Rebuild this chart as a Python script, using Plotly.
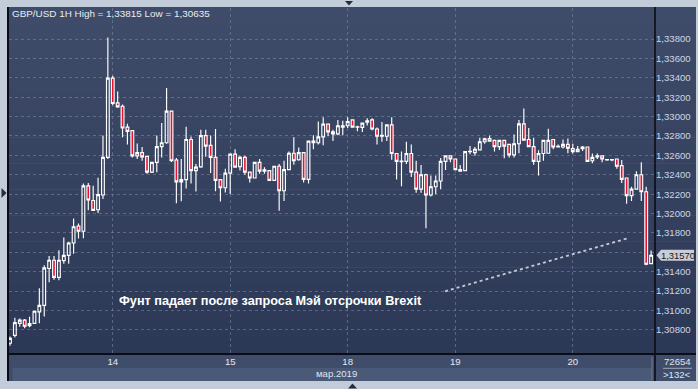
import plotly.graph_objects as go

# ---------------- data (GBP/USD, 1H candles) ----------------
opens = [
    1.30662, 1.30743, 1.30867, 1.30901, 1.30844, 1.30867, 1.30985, 1.31053, 1.31433, 1.31518,
    1.31342, 1.31514, 1.31568, 1.31696, 1.31871, 1.31817, 1.32286, 1.32134, 1.32039, 1.32191,
    1.32579, 1.33397, 1.33141, 1.33107, 1.32892, 1.32855, 1.32595, 1.32629, 1.32589, 1.32427,
    1.32528, 1.32690, 1.32730, 1.33057, 1.32552, 1.32326, 1.32349, 1.32764, 1.32443, 1.32481,
    1.32804, 1.32703, 1.32579, 1.32349, 1.32266, 1.32417, 1.32612, 1.32484, 1.32579, 1.32427,
    1.32367, 1.32528, 1.32437, 1.32443, 1.32342, 1.32488, 1.32235, 1.32453, 1.32622, 1.32555,
    1.32629, 1.32352, 1.32747, 1.32730, 1.32791, 1.32922, 1.32842, 1.32821, 1.32892, 1.32905,
    1.32966, 1.32895, 1.32888, 1.32943, 1.32966, 1.32872, 1.32797, 1.32797, 1.32915, 1.32619,
    1.32541, 1.32538, 1.32619, 1.32427, 1.32251, 1.32400, 1.32191, 1.32276, 1.32336, 1.32538,
    1.32595, 1.32562, 1.32453, 1.32443, 1.32637, 1.32629, 1.32656, 1.32740, 1.32774, 1.32754,
    1.32690, 1.32754, 1.32713, 1.32605, 1.32720, 1.32925, 1.32764, 1.32690, 1.32538, 1.32619,
    1.32622, 1.32764, 1.32693, 1.32686, 1.32713, 1.32670, 1.32639, 1.32686, 1.32686, 1.32544,
    1.32585, 1.32595, 1.32557, 1.32557, 1.32562, 1.32494, 1.32367, 1.32185, 1.32251, 1.32400,
    1.32225, 1.31483,
]
highs = [
    1.30732, 1.30924, 1.30917, 1.30911, 1.30935, 1.30995, 1.31228, 1.31467, 1.31561, 1.31561,
    1.31622, 1.31753, 1.31710, 1.31948, 1.31898, 1.32309, 1.32316, 1.32286, 1.32370, 1.32804,
    1.33815, 1.33421, 1.33259, 1.33125, 1.32925, 1.32860, 1.32723, 1.32686, 1.32592, 1.32531,
    1.32804, 1.32933, 1.33296, 1.33062, 1.32572, 1.32562, 1.32895, 1.32794, 1.32511, 1.32865,
    1.32865, 1.32804, 1.32872, 1.32354, 1.32461, 1.32619, 1.32663, 1.32595, 1.32595, 1.32430,
    1.32531, 1.32562, 1.32478, 1.32445, 1.32491, 1.32511, 1.32544, 1.32639, 1.32787, 1.32680,
    1.32632, 1.32754, 1.32807, 1.32949, 1.32993, 1.32925, 1.32865, 1.32966, 1.32956, 1.32993,
    1.32973, 1.32905, 1.32936, 1.32983, 1.32983, 1.32888, 1.32943, 1.32920, 1.32993, 1.32622,
    1.32639, 1.32740, 1.32713, 1.32544, 1.32501, 1.32410, 1.32393, 1.32393, 1.32572, 1.32602,
    1.32602, 1.32565, 1.32501, 1.32642, 1.32696, 1.32686, 1.32781, 1.32781, 1.32804, 1.32757,
    1.32757, 1.32757, 1.32716, 1.32814, 1.32966, 1.33084, 1.32882, 1.32781, 1.32653, 1.32757,
    1.32875, 1.32767, 1.32713, 1.32764, 1.32774, 1.32720, 1.32696, 1.32696, 1.32688, 1.32619,
    1.32619, 1.32597, 1.32562, 1.32562, 1.32562, 1.32552, 1.32370, 1.32276, 1.32437, 1.32528,
    1.32276, 1.31619,
]
lows = [
    1.30635, 1.30722, 1.30833, 1.30816, 1.30826, 1.30864, 1.30867, 1.30938, 1.31291, 1.31316,
    1.31312, 1.31483, 1.31483, 1.31584, 1.31743, 1.31746, 1.32033, 1.32026, 1.32006, 1.32150,
    1.32562, 1.33117, 1.33090, 1.32787, 1.32713, 1.32579, 1.32562, 1.32544, 1.32410, 1.32417,
    1.32427, 1.32579, 1.32720, 1.32531, 1.32107, 1.32127, 1.32258, 1.32309, 1.32228, 1.32471,
    1.32585, 1.32417, 1.32231, 1.32124, 1.32218, 1.32201, 1.32476, 1.32443, 1.32400, 1.32319,
    1.32365, 1.32410, 1.32410, 1.32339, 1.32339, 1.32029, 1.32130, 1.32450, 1.32504, 1.32544,
    1.32319, 1.32309, 1.32663, 1.32713, 1.32703, 1.32797, 1.32747, 1.32807, 1.32807, 1.32882,
    1.32890, 1.32848, 1.32842, 1.32908, 1.32858, 1.32713, 1.32740, 1.32747, 1.32555, 1.32352,
    1.32282, 1.32511, 1.32377, 1.32215, 1.32215, 1.31847, 1.32175, 1.32198, 1.32251, 1.32450,
    1.32528, 1.32450, 1.32435, 1.32440, 1.32612, 1.32595, 1.32653, 1.32720, 1.32744, 1.32639,
    1.32656, 1.32569, 1.32579, 1.32579, 1.32622, 1.32754, 1.32688, 1.32504, 1.32393, 1.32544,
    1.32619, 1.32663, 1.32680, 1.32670, 1.32622, 1.32619, 1.32637, 1.32645, 1.32536, 1.32518,
    1.32562, 1.32528, 1.32544, 1.32538, 1.32461, 1.32316, 1.32100, 1.32130, 1.32248, 1.32130,
    1.31467, 1.31477,
]
closes = [
    1.30712, 1.30874, 1.30901, 1.30837, 1.30864, 1.30992, 1.31053, 1.31440, 1.31518, 1.31342,
    1.31518, 1.31568, 1.31696, 1.31864, 1.31817, 1.32286, 1.32140, 1.32033, 1.32195, 1.32579,
    1.33397, 1.33135, 1.33100, 1.32882, 1.32848, 1.32595, 1.32629, 1.32585, 1.32427, 1.32528,
    1.32690, 1.32730, 1.33057, 1.32544, 1.32326, 1.32349, 1.32764, 1.32443, 1.32478, 1.32804,
    1.32696, 1.32579, 1.32342, 1.32266, 1.32417, 1.32612, 1.32478, 1.32579, 1.32427, 1.32367,
    1.32528, 1.32437, 1.32450, 1.32342, 1.32488, 1.32235, 1.32453, 1.32622, 1.32544, 1.32629,
    1.32352, 1.32747, 1.32730, 1.32791, 1.32922, 1.32842, 1.32821, 1.32905, 1.32905, 1.32949,
    1.32892, 1.32890, 1.32933, 1.32956, 1.32872, 1.32797, 1.32807, 1.32915, 1.32619, 1.32538,
    1.32536, 1.32619, 1.32427, 1.32251, 1.32400, 1.32191, 1.32276, 1.32336, 1.32538, 1.32595,
    1.32562, 1.32453, 1.32437, 1.32639, 1.32642, 1.32663, 1.32740, 1.32771, 1.32747, 1.32690,
    1.32754, 1.32696, 1.32605, 1.32720, 1.32925, 1.32757, 1.32690, 1.32538, 1.32619, 1.32754,
    1.32754, 1.32686, 1.32688, 1.32713, 1.32673, 1.32639, 1.32663, 1.32670, 1.32538, 1.32579,
    1.32595, 1.32562, 1.32552, 1.32552, 1.32488, 1.32352, 1.32185, 1.32251, 1.32400, 1.32225,
    1.31477, 1.31570,
]

day_tick_index = [21, 45, 69, 91, 115]
day_labels = ["14", "15", "18", "19", "20"]
price_ticks = [1.308, 1.310, 1.312, 1.314, 1.316, 1.318, 1.320, 1.322,
               1.324, 1.326, 1.328, 1.330, 1.332, 1.334, 1.336, 1.338]
# the 1,31600 label sits under the last-price marker in the original
price_tick_labels = ["1,30800", "1,31000", "1,31200", "1,31400", "", "1,31800",
                     "1,32000", "1,32200", "1,32400", "1,32600", "1,32800", "1,33000",
                     "1,33200", "1,33400", "1,33600", "1,33800"]

title_text = "GBP/USD 1H High = 1,33815 Low = 1,30635"
note_text = "Фунт падает после запроса Мэй отсрочки Brexit"
month_label = "мар.2019"
volume_label = "72654"
bars_label = "&gt;132&lt;"
last_price = 1.31570
last_price_label = "1,31570"
trend_x = [88.9, 126.1]
trend_y = [1.31198, 1.31743]
note_pos = (53.2, 1.31100)

# ---------------- geometry helpers (pixels -> paper) ----------------
W, H = 698, 389
PL, PR, PT, PB = 9, 655, 8, 354


def px(x):
    return (x - PL) / (PR - PL)


def py(y):
    return (PB - y) / (PB - PT)


FONT = "Liberation Sans, Arial, sans-serif"
GRID = "rgba(125,140,168,0.55)"

shapes = []

# gradient background (plot + right price panel)
top_c = (63, 76, 105)
bot_c = (44, 56, 85)
N = 40
y_top, y_bot = 7.0, 354.0
for k in range(N):
    t = k / (N - 1)
    c = tuple(round(top_c[i] + (bot_c[i] - top_c[i]) * t) for i in range(3))
    y0 = y_top + (y_bot - y_top) * k / N
    y1 = y_top + (y_bot - y_top) * (k + 1) / N + 0.6
    shapes.append(dict(type="rect", xref="paper", yref="paper", layer="below",
                       x0=px(8), x1=px(696), y0=py(y1), y1=py(y0),
                       fillcolor="rgb(%d,%d,%d)" % c, line=dict(width=0)))

# bottom time-axis band
shapes.append(dict(type="rect", xref="paper", yref="paper", layer="below",
                   x0=px(8), x1=px(696), y0=py(381), y1=py(354),
                   fillcolor="#3f4d6a", line=dict(width=0)))
shapes.append(dict(type="rect", xref="paper", yref="paper", layer="below",
                   x0=px(12.7), x1=px(652), y0=py(381), y1=py(368),
                   fillcolor="#4a5977", line=dict(width=0)))
shapes.append(dict(type="line", xref="paper", yref="paper", layer="above",
                   x0=px(652), x1=px(652), y0=py(357), y1=py(380),
                   line=dict(color="#6f7c94", width=1)))
shapes.append(dict(type="line", xref="paper", yref="paper", layer="above",
                   x0=px(663), x1=px(692), y0=py(368.3), y1=py(368.3),
                   line=dict(color="#9ca8bc", width=1)))

# black frame lines
shapes.append(dict(type="line", xref="paper", yref="paper", layer="above",
                   x0=px(8), x1=px(8), y0=py(7), y1=py(381),
                   line=dict(color="#0a0d14", width=2)))
shapes.append(dict(type="line", xref="paper", yref="paper", layer="above",
                   x0=px(655), x1=px(655), y0=py(7), y1=py(381),
                   line=dict(color="#0a0d14", width=1.6)))
shapes.append(dict(type="line", xref="paper", yref="paper", layer="above",
                   x0=px(8), x1=px(696), y0=py(354), y1=py(354),
                   line=dict(color="#0a0d14", width=2)))


# small scroll arrows in the outer frame
def tri(pts):
    d = "M " + " L ".join("%f,%f" % (px(a), py(b)) for a, b in pts) + " Z"
    return dict(type="path", xref="paper", yref="paper", layer="above", path=d,
                fillcolor="#252e3d", line=dict(width=0))


shapes.append(tri([(345, 1), (353, 1), (349, 5.5)]))
shapes.append(tri([(348, 388.5), (357, 388.5), (352.5, 383.5)]))
shapes.append(tri([(1.5, 188), (1.5, 198), (6.5, 193)]))

# user-drawn dotted trend line
shapes.append(dict(type="line", xref="x", yref="y", layer="above",
                   x0=trend_x[0], x1=trend_x[1], y0=trend_y[0], y1=trend_y[1],
                   line=dict(color="#c5cbd5", width=1.8, dash="dot")))

# last price marker box (arrow-shaped)
dy = 0.00056
path = "M %f,%f L %f,%f L %f,%f L %f,%f L %f,%f Z" % (
    px(656.5), last_price,
    px(661), last_price + dy,
    px(694), last_price + dy,
    px(694), last_price - dy,
    px(661), last_price - dy)
shapes.append(dict(type="path", xref="paper", yref="y", layer="above", path=path,
                   fillcolor="#c9cdd4", line=dict(width=0)))

annotations = [
    dict(text=title_text, xref="paper", yref="paper", x=px(10), y=py(13.5),
         xanchor="left", yanchor="middle", showarrow=False,
         font=dict(family=FONT, size=9.9, color="#e8ecf2")),
    dict(text="<b>" + note_text + "</b>", xref="x", yref="y",
         x=note_pos[0], y=note_pos[1], xanchor="center", yanchor="middle",
         showarrow=False, font=dict(family=FONT, size=12.7, color="#ffffff")),
    dict(text=month_label, xref="paper", yref="paper", x=px(336), y=py(373.8),
         xanchor="center", yanchor="middle", showarrow=False,
         font=dict(family=FONT, size=9.6, color="#dfe5ee")),
    dict(text=volume_label, xref="paper", yref="paper", x=px(677), y=py(361.7),
         xanchor="center", yanchor="middle", showarrow=False,
         font=dict(family=FONT, size=9.6, color="#dfe5ee")),
    dict(text=bars_label, xref="paper", yref="paper", x=px(677), y=py(374.5),
         xanchor="center", yanchor="middle", showarrow=False,
         font=dict(family=FONT, size=9.6, color="#dfe5ee")),
    dict(text=last_price_label, xref="paper", yref="y", x=px(677.5), y=last_price,
         xanchor="center", yanchor="middle", showarrow=False,
         font=dict(family=FONT, size=9.4, color="#15181e")),
]

fig = go.Figure(go.Candlestick(
    x=list(range(len(opens))), open=opens, high=highs, low=lows, close=closes,
    increasing=dict(line=dict(color="#ffffff", width=1.15), fillcolor="rgba(0,0,0,0)"),
    decreasing=dict(line=dict(color="#ffffff", width=1.15), fillcolor="#e8112f"),
    whiskerwidth=0, hoverinfo="skip", showlegend=False,
))

fig.update_layout(
    width=W, height=H, autosize=False,
    margin=dict(l=PL, r=W - PR, t=PT, b=H - PB, pad=0),
    paper_bgcolor="#c3cdd9", plot_bgcolor="rgba(0,0,0,0)",
    boxgap=0.2,
    showlegend=False,
    shapes=shapes, annotations=annotations,
    font=dict(family=FONT),
    xaxis=dict(range=[-0.2, 131.8], tickmode="array", tickvals=day_tick_index,
               ticktext=day_labels, ticks="", showgrid=True, gridcolor=GRID,
               griddash="3px,3px", gridwidth=1, zeroline=False, showline=False,
               tickfont=dict(family=FONT, size=9.6, color="#e3e8f0"),
               rangeslider=dict(visible=False), fixedrange=True, automargin=False),
    yaxis=dict(range=[1.30551, 1.34120], side="right", tickmode="array",
               tickvals=price_ticks, ticktext=price_tick_labels, ticks="",
               showgrid=True, gridcolor=GRID, griddash="3px,3px", gridwidth=1,
               zeroline=False, showline=False,
               tickfont=dict(family=FONT, size=9.6, color="#cdd6e8"),
               fixedrange=True, automargin=False),
)

fig.write_html(
    "out.html",
    config={"displayModeBar": False},
    post_script="document.body.style.margin='0';document.body.style.overflow='hidden';",
)
